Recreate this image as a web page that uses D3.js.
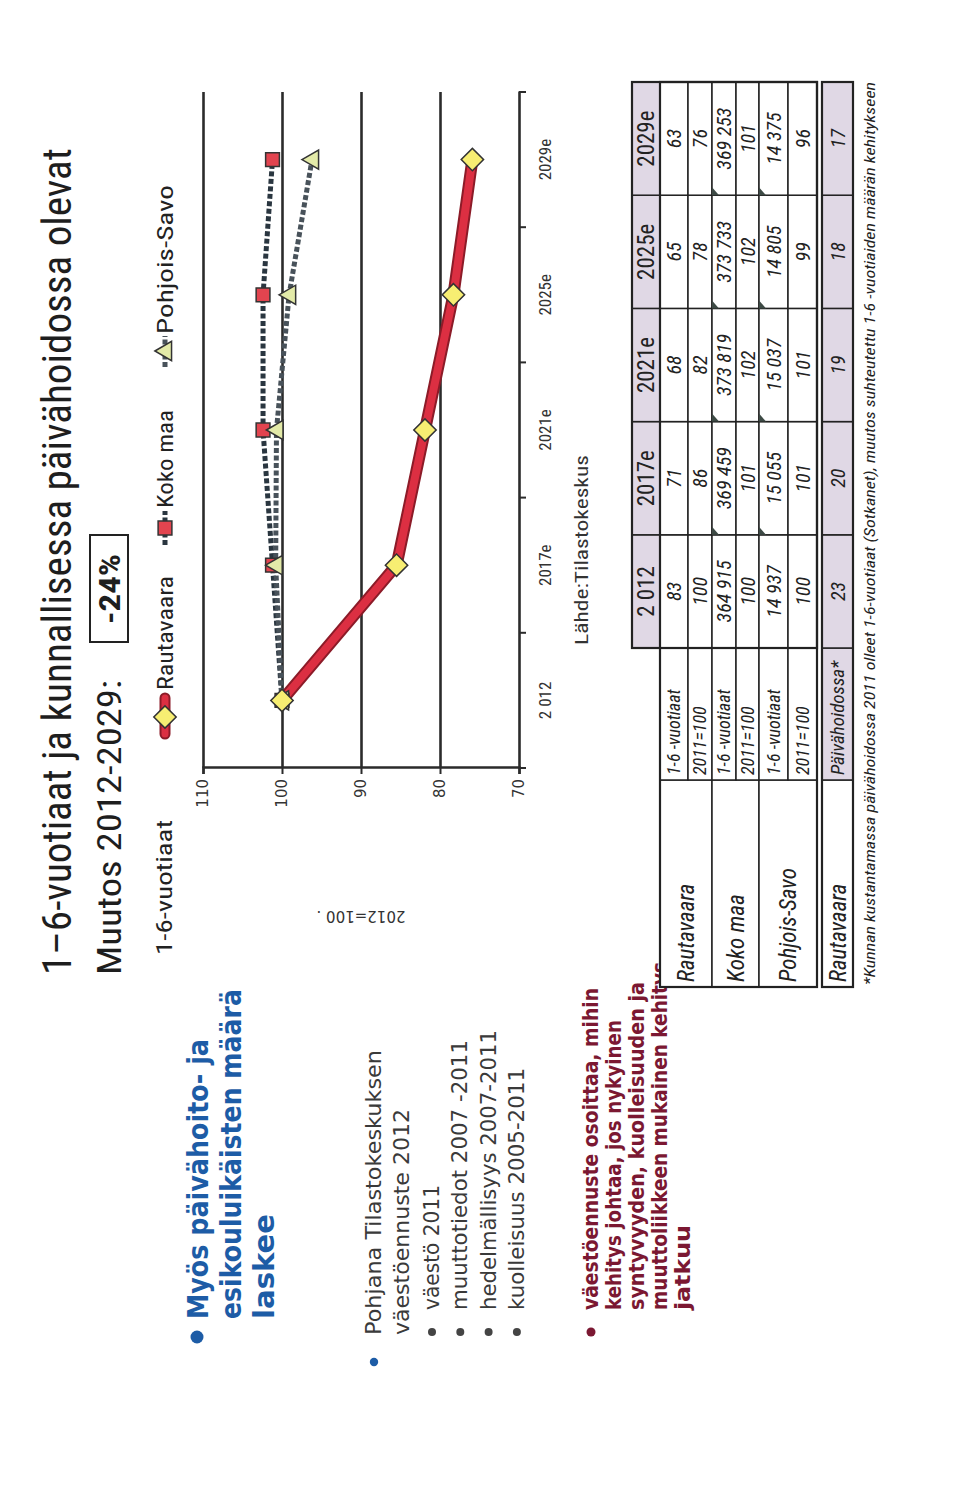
<!DOCTYPE html>
<html><head><meta charset="utf-8">
<script src="https://cdn.jsdelivr.net/npm/d3@7"></script>
<style>body{margin:0;background:#fff}svg{display:block}</style>
</head><body>
<svg id="c" width="960" height="1506"></svg>
<script>
// ---------- data ----------
const categories = ["2 012", "2017e", "2021e", "2025e", "2029e"];
const rautavaara = [100, 85.5, 81.9, 78.3, 75.9];
const kokoMaa = [100, 101.2, 102.4, 102.4, 101.2];
const pohjoisSavo = [100, 100.8, 100.7, 99.1, 96.2];
const yTicks = [70, 80, 90, 100, 110];
const seriesNames = ["Rautavaara", "Koko maa", "Pohjois-Savo"];

const tableYears = ["2 012", "2017e", "2021e", "2025e", "2029e"];
const rautaCount = ["83", "71", "68", "65", "63"];
const rautaIndex = ["100", "86", "82", "78", "76"];
const kokoCount = ["364 915", "369 459", "373 819", "373 733", "369 253"];
const kokoIndex = ["100", "101", "102", "102", "101"];
const psCount = ["14 937", "15 055", "15 037", "14 805", "14 375"];
const psIndex = ["100", "101", "101", "99", "96"];
const daycare = ["23", "20", "19", "18", "17"];
const rowLabels = ["1-6 -vuotiaat", "2011=100"];

// ---------- setup ----------
const svg = d3.select("#c");
svg.append("rect").attr("width", 960).attr("height", 1506).attr("fill", "#fff");
// slide is rotated a quarter turn counter-clockwise on the page
const g = svg.append("g").attr("transform", "translate(0,1506) rotate(-90)");

const NARROW = "'Liberation Sans Narrow','Arial Narrow','Roboto Condensed','Liberation Sans',sans-serif";
const VERD = "'DejaVu Sans Condensed','DejaVu Sans',Verdana,sans-serif";
const VERDR = "'DejaVu Sans',Verdana,sans-serif";

function T(parent, x, y, s, o = {}) {
  const t = parent.append("text").attr("x", x).attr("y", y).text(s)
    .attr("font-family", o.family || NARROW)
    .attr("font-size", o.size || 16)
    .attr("fill", o.fill || "#222");
  if (o.weight) t.attr("font-weight", o.weight);
  if (o.style) t.attr("font-style", o.style);
  if (o.anchor) t.attr("text-anchor", o.anchor);
  if (o.len) t.attr("textLength", o.len).attr("lengthAdjust", "spacingAndGlyphs");
  return t;
}

// ---------- titles ----------
T(g, 531, 71, "1–6-vuotiaat ja kunnallisessa päivähoidossa olevat", {size: 40, len: 827, fill: "#1e1e1e"});
T(g, 531, 121, "Muutos 2012-2029:", {size: 33, len: 295, fill: "#1e1e1e"});
g.append("rect").attr("x", 864).attr("y", 90).attr("width", 107).attr("height", 38)
  .attr("fill", "none").attr("stroke", "#222").attr("stroke-width", 2);
T(g, 917, 120, "-24%", {size: 29, weight: "bold", anchor: "middle", len: 70, fill: "#1e1e1e"});

// ---------- chart ----------
const chart = g.append("g");
const x = d3.scaleBand().domain(categories).range([738, 1414]);
const y = d3.scaleLinear().domain([70, 110]).range([519, 203]);
const cx = c => x(c) + x.bandwidth() / 2;

T(chart, 551, 172, "1-6-vuotiaat", {size: 22, len: 135});

// gridlines
chart.append("g").attr("transform", "translate(738,0)")
  .call(d3.axisLeft(y).tickValues(yTicks.filter(v => v > 70)).tickSize(-676).tickFormat(""))
  .call(s => s.select(".domain").remove())
  .call(s => s.selectAll("line").attr("stroke", "#2b2b2b").attr("stroke-width", 2.6));

// y axis
chart.append("g").attr("transform", "translate(738,0)")
  .call(d3.axisLeft(y).tickValues(yTicks).tickSize(6).tickPadding(5).tickFormat(d3.format("d")))
  .call(s => s.select(".domain").attr("stroke", "#2b2b2b").attr("stroke-width", 2.6))
  .call(s => s.selectAll("line").attr("stroke", "#2b2b2b").attr("stroke-width", 2))
  .call(s => s.selectAll("text").attr("font-family", VERDR).attr("font-size", 15).attr("fill", "#333"));

// x axis
const xa = chart.append("g").attr("transform", "translate(0,519)")
  .call(d3.axisBottom(x).tickSize(0).tickPadding(20))
  .call(s => s.select(".domain").attr("stroke", "#2b2b2b").attr("stroke-width", 2.6))
  .call(s => s.selectAll("text").attr("font-family", NARROW).attr("font-size", 17).attr("fill", "#333"));
xa.selectAll(".edge").data(categories.map(c => x(c)).concat([x.range()[1]])).join("line")
  .attr("class", "edge").attr("x1", d => d).attr("x2", d => d).attr("y1", 0).attr("y2", 7)
  .attr("stroke", "#2b2b2b").attr("stroke-width", 2);

// y axis title (rotated)
chart.append("text").attr("transform", "translate(595,361) rotate(-90)")
  .attr("text-anchor", "middle").attr("font-family", VERDR).attr("font-size", 15).attr("fill", "#333")
  .text("2012=100 .");

T(chart, 861, 588, "Lähde:Tilastokeskus", {size: 19, len: 190, fill: "#333"});

// series
const line = d3.line().x((d, i) => cx(categories[i])).y(d => y(d));
const dashCol1 = "#2a3640", dashCol2 = "#48525a";

chart.append("path").datum(kokoMaa).attr("d", line).attr("fill", "none")
  .attr("stroke", dashCol1).attr("stroke-width", 5).attr("stroke-dasharray", "5,2.5");
chart.append("path").datum(pohjoisSavo).attr("d", line).attr("fill", "none")
  .attr("stroke", dashCol2).attr("stroke-width", 5).attr("stroke-dasharray", "5,2.5");
chart.append("path").datum(rautavaara).attr("d", line).attr("fill", "none")
  .attr("stroke", "#8c1b28").attr("stroke-width", 12).attr("stroke-linejoin", "round");
chart.append("path").datum(rautavaara).attr("d", line).attr("fill", "none")
  .attr("stroke", "#dc2f42").attr("stroke-width", 8).attr("stroke-linejoin", "round");

const sq = d3.symbol(d3.symbolSquare, 190)();
const dia = d3.symbol(d3.symbolSquare, 250)();
const tri = d3.symbol(d3.symbolTriangle, 160)();

function squareMark(sel, px, py) {
  sel.append("path").attr("d", sq).attr("transform", `translate(${px},${py})`)
    .attr("fill", "#e2444f").attr("stroke", "#333").attr("stroke-width", 1.5);
}
function triMark(sel, px, py) {
  sel.append("path").attr("d", tri).attr("transform", `translate(${px},${py + 1})`)
    .attr("fill", "#e3eaa8").attr("stroke", "#333").attr("stroke-width", 1.5);
}
function diaMark(sel, px, py) {
  sel.append("path").attr("d", dia).attr("transform", `translate(${px},${py}) rotate(45)`)
    .attr("fill", "#f7ee72").attr("stroke", "#333").attr("stroke-width", 1.5);
}
kokoMaa.forEach((v, i) => squareMark(chart, cx(categories[i]), y(v)));
pohjoisSavo.forEach((v, i) => triMark(chart, cx(categories[i]), y(v)));
rautavaara.forEach((v, i) => diaMark(chart, cx(categories[i]), y(v)));

// legend
const lg = chart.append("g");
const ly = 165;
lg.append("line").attr("x1", 772).attr("x2", 808).attr("y1", ly).attr("y2", ly).attr("stroke", "#8c1b28").attr("stroke-width", 11).attr("stroke-linecap", "round");
lg.append("line").attr("x1", 772).attr("x2", 808).attr("y1", ly).attr("y2", ly).attr("stroke", "#dc2f42").attr("stroke-width", 7).attr("stroke-linecap", "round");
diaMark(lg, 789, ly);
T(lg, 816, 173, seriesNames[0], {size: 22, len: 114});
lg.append("line").attr("x1", 961).attr("x2", 995).attr("y1", ly).attr("y2", ly).attr("stroke", dashCol1).attr("stroke-width", 5).attr("stroke-dasharray", "5,2.5");
squareMark(lg, 978, ly);
T(lg, 998, 173, seriesNames[1], {size: 22, len: 98});
lg.append("line").attr("x1", 1139).attr("x2", 1170).attr("y1", ly).attr("y2", ly).attr("stroke", dashCol2).attr("stroke-width", 5).attr("stroke-dasharray", "5,2.5");
triMark(lg, 1155, ly);
T(lg, 1172, 173, seriesNames[2], {size: 22, len: 149});

// ---------- bullet text (left side of slide) ----------
const blue = "#1d5ca6", grey = "#3a3a3a", wine = "#7b1832";
g.append("circle").attr("cx", 169).attr("cy", 197).attr("r", 6.5).attr("fill", blue);
T(g, 187, 208, "Myös päivähoito- ja", {size: 28, family: VERD, weight: "bold", fill: blue, len: 280});
T(g, 187, 241, "esikouluikäisten määrä", {size: 28, family: VERD, weight: "bold", fill: blue, len: 330});
T(g, 187, 274, "laskee", {size: 28, family: VERD, weight: "bold", fill: blue, len: 105});

g.append("circle").attr("cx", 144).attr("cy", 374).attr("r", 4.2).attr("fill", blue);
T(g, 171, 381, "Pohjana Tilastokeskuksen", {size: 22, family: VERDR, fill: grey, len: 285});
T(g, 171, 409, "väestöennuste 2012", {size: 22, family: VERDR, fill: grey, len: 226});
const subs = [["väestö 2011", 125], ["muuttotiedot 2007 -2011", 270], ["hedelmällisyys 2007-2011", 280], ["kuolleisuus 2005-2011", 242]];
subs.forEach((s, i) => {
  const by = 439 + i * 28.3;
  g.append("circle").attr("cx", 174).attr("cy", by - 7).attr("r", 4).attr("fill", "#444");
  T(g, 196, by, s[0], {size: 22, family: VERDR, fill: grey, len: s[1]});
});

g.append("circle").attr("cx", 174).attr("cy", 591).attr("r", 4.5).attr("fill", wine);
const redLines = [["väestöennuste osoittaa, mihin", 322], ["kehitys johtaa, jos nykyinen", 290], ["syntyvyyden, kuolleisuuden ja", 328], ["muuttoliikkeen mukainen kehitys", 348], ["jatkuu", 85]];
redLines.forEach((s, i) => {
  T(g, 196, 598 + i * 23, s[0], {size: 21, family: VERD, weight: "bold", fill: wine, len: s[1]});
});

// ---------- table ----------
const tb = g.append("g");
const colX = d3.scaleBand().domain(tableYears).range([858, 1424]);
const lav = "#e0d8e5";
const rowEdges = [660, 688, 712, 736, 759, 788, 817];
const tableRows = [rautaCount, rautaIndex, kokoCount, kokoIndex, psCount, psIndex];
const cellStroke = "#222";

// header
tableYears.forEach(yr => {
  tb.append("rect").attr("x", colX(yr)).attr("y", 632).attr("width", colX.bandwidth()).attr("height", 28)
    .attr("fill", lav).attr("stroke", cellStroke).attr("stroke-width", 1.5);
  T(tb, colX(yr) + colX.bandwidth() / 2, 654, yr, {size: 23, anchor: "middle", fill: "#222"});
});
// name cells
seriesNames.forEach((n, gi) => {
  const y0 = rowEdges[gi * 2], y1 = rowEdges[gi * 2 + 2];
  tb.append("rect").attr("x", 519).attr("y", y0).attr("width", 207).attr("height", y1 - y0)
    .attr("fill", "#fff").attr("stroke", cellStroke).attr("stroke-width", 1.5);
  T(tb, 524, (y0 + y1) / 2 + 8, n, {size: 23, style: "italic", fill: "#222"});
});
// rows
tableRows.forEach((vals, ri) => {
  const y0 = rowEdges[ri], y1 = rowEdges[ri + 1];
  tb.append("rect").attr("x", 726).attr("y", y0).attr("width", 132).attr("height", y1 - y0)
    .attr("fill", "#fff").attr("stroke", cellStroke).attr("stroke-width", 1.5);
  T(tb, 731, (y0 + y1) / 2 + 6, rowLabels[ri % 2], {size: 18, style: "italic", fill: "#222"});
  vals.forEach((v, ci) => {
    const c = tableYears[ci];
    tb.append("rect").attr("x", colX(c)).attr("y", y0).attr("width", colX.bandwidth()).attr("height", y1 - y0)
      .attr("fill", "#fff").attr("stroke", cellStroke).attr("stroke-width", 1.5);
    T(tb, colX(c) + colX.bandwidth() / 2, (y0 + y1) / 2 + 7, v, {size: 20, style: "italic", anchor: "middle", fill: "#222"});
    if (ri % 2 === 0 && ri > 0 && ci > 0) {
      const px = colX(c), py = y0;
      tb.append("path").attr("d", `M${px},${py}L${px + 8},${py}L${px},${py + 7}Z`).attr("fill", "#3d4a45");
    }
  });
});
tb.append("rect").attr("x", 519).attr("y", 660).attr("width", 905).attr("height", 157)
  .attr("fill", "none").attr("stroke", "#222").attr("stroke-width", 2.2);
tb.append("rect").attr("x", 858).attr("y", 632).attr("width", 566).attr("height", 185)
  .attr("fill", "none").attr("stroke", "#222").attr("stroke-width", 2.2);

// second table
tb.append("rect").attr("x", 519).attr("y", 822).attr("width", 207).attr("height", 31)
  .attr("fill", "#fff").attr("stroke", cellStroke).attr("stroke-width", 1.5);
T(tb, 524, 846, "Rautavaara", {size: 23, style: "italic", fill: "#222"});
tb.append("rect").attr("x", 726).attr("y", 822).attr("width", 132).attr("height", 31)
  .attr("fill", lav).attr("stroke", cellStroke).attr("stroke-width", 1.5);
T(tb, 731, 844, "Päivähoidossa*", {size: 19, style: "italic", fill: "#222"});
daycare.forEach((v, ci) => {
  const c = tableYears[ci];
  tb.append("rect").attr("x", colX(c)).attr("y", 822).attr("width", colX.bandwidth()).attr("height", 31)
    .attr("fill", lav).attr("stroke", cellStroke).attr("stroke-width", 1.5);
  T(tb, colX(c) + colX.bandwidth() / 2, 845, v, {size: 20, style: "italic", anchor: "middle", fill: "#222"});
});
tb.append("rect").attr("x", 519).attr("y", 822).attr("width", 905).attr("height", 31)
  .attr("fill", "none").attr("stroke", "#222").attr("stroke-width", 2.2);

T(g, 521, 875, "*Kunnan kustantamassa päivähoidossa 2011 olleet 1-6-vuotiaat (Sotkanet), muutos suhteutettu 1-6 -vuotiaiden määrän kehitykseen",
  {size: 15, style: "italic", len: 903, fill: "#222"});
</script>
</body></html>
